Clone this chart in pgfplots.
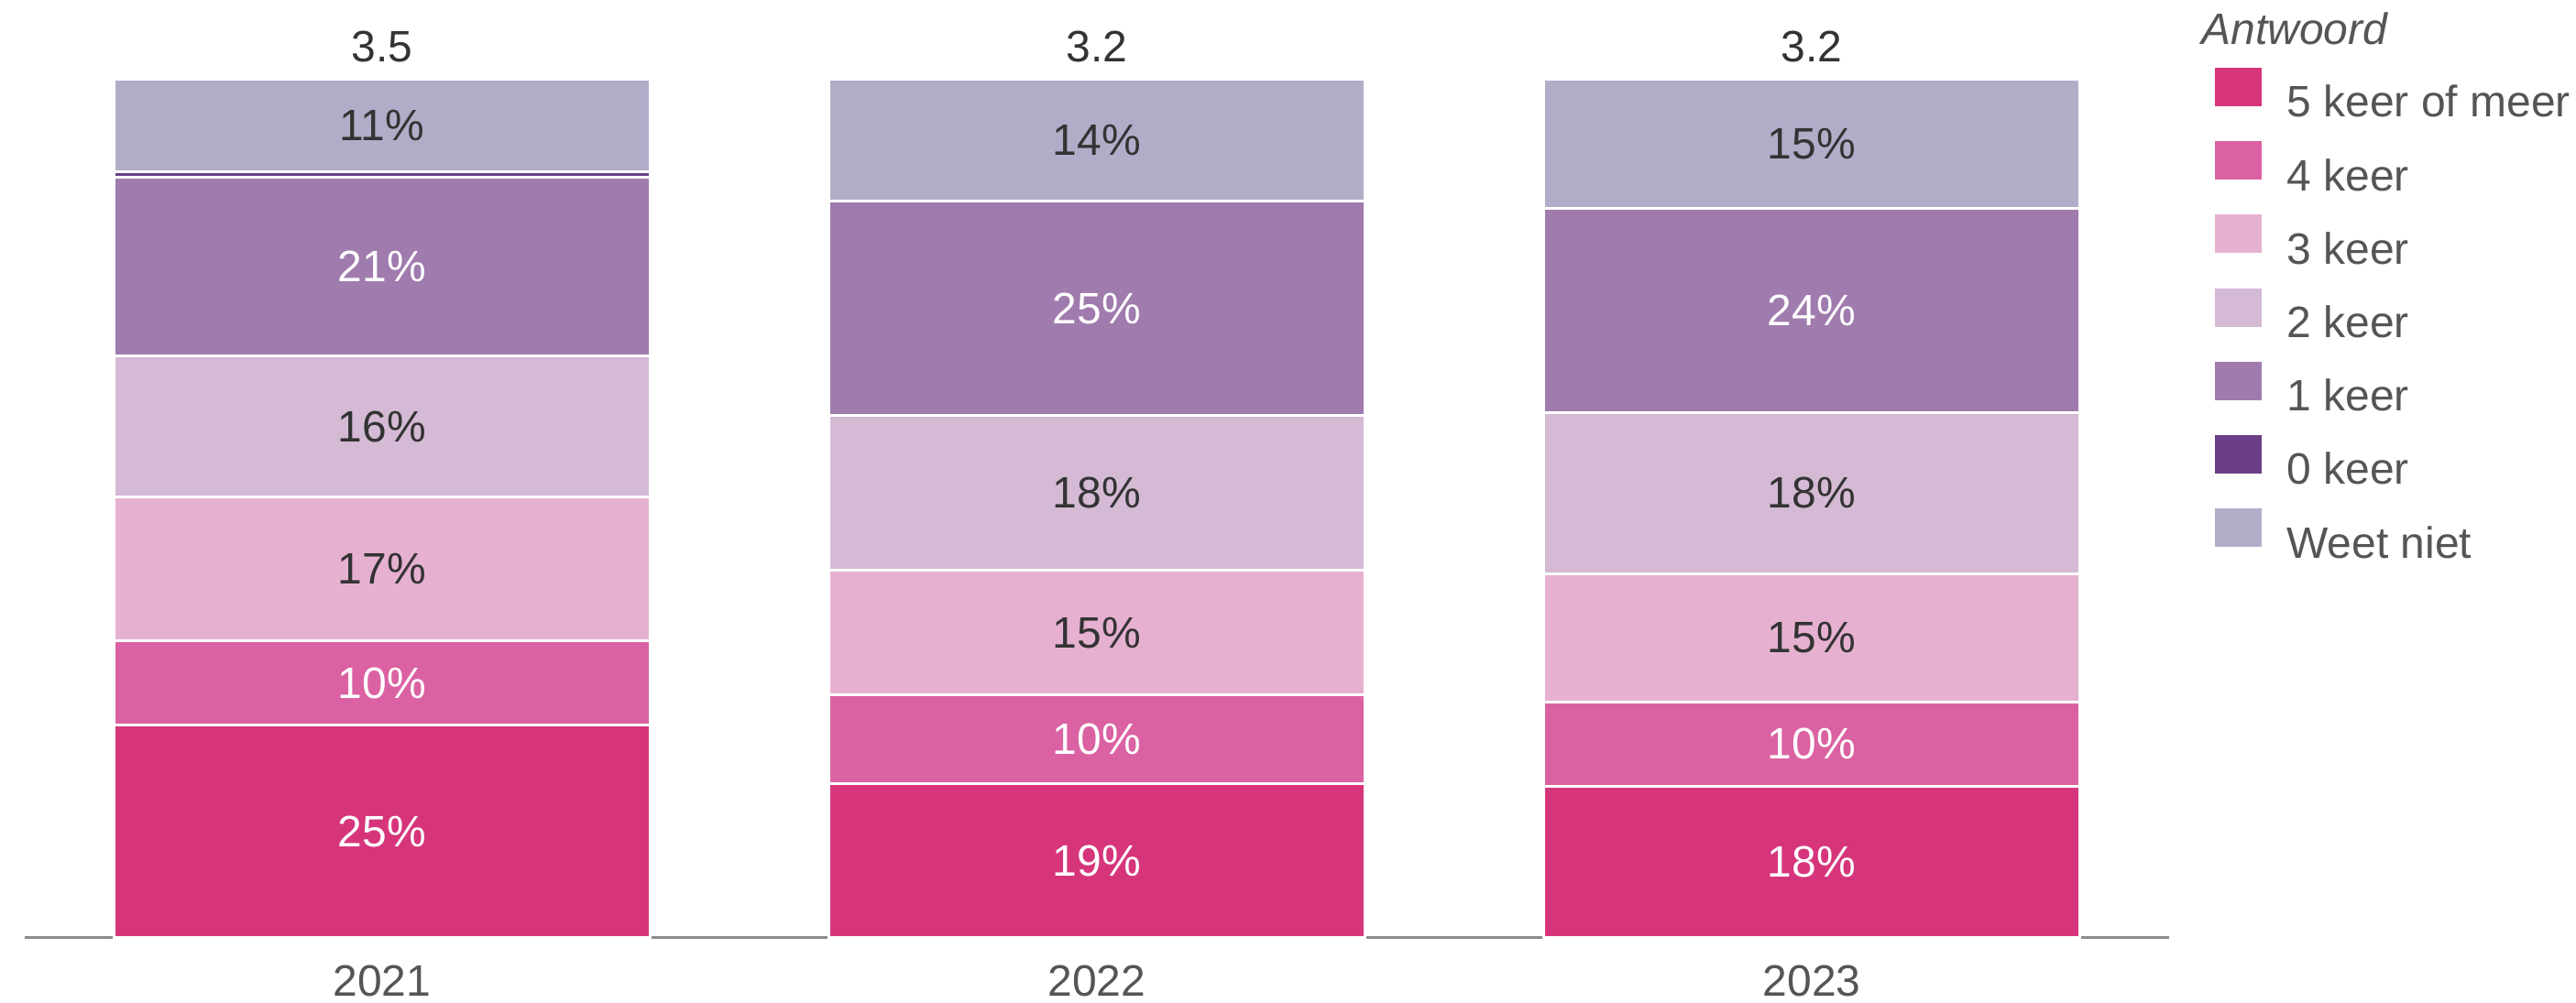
\documentclass[border=0pt]{standalone}
\usepackage{fontspec}
\setmainfont{Liberation Sans}
\usepackage{pgfplots}
\usepackage{pgfplotstable}
\pgfplotsset{compat=1.18}

\definecolor{cfive}{HTML}{D6357C}
\definecolor{cfour}{HTML}{DB62A2}
\definecolor{cthree}{HTML}{E6B1D1}
\definecolor{ctwo}{HTML}{D4BAD5}
\definecolor{cone}{HTML}{A07BAE}
\definecolor{czero}{HTML}{6A3F87}
\definecolor{cweet}{HTML}{B1ADC9}
\definecolor{txtdark}{HTML}{333333}
\definecolor{txtgray}{HTML}{555555}
\definecolor{basegray}{HTML}{8C8C8C}

% stacked shares (%), bottom to top (as drawn, normalised to 100)
\pgfplotstableread{
x five four three two one zero weet
0 24.8 9.8 16.7 16.5 20.8 0.6 10.8
1 18.0 10.3 14.5 18.0 25.0 0 14.2
2 17.7 9.8 14.9 18.8 23.7 0 15.1
}\datatable

% label positions (segment middles) and printed values
\pgfplotstableread{
x y lab
0 12.4 25
0 29.7 10
0 78.2 21
1 9.0 19
1 23.15 10
1 73.3 25
2 8.85 18
2 22.6 10
2 73.05 24
}\whitelabels
\pgfplotstableread{
x y lab
0 42.95 17
0 59.55 16
0 94.6 11
1 35.55 15
1 51.8 18
1 92.9 14
2 34.95 15
2 51.8 18
2 92.45 15
}\darklabels
\pgfplotstableread{
x y lab
0 103.8 3.5
1 103.8 3.2
2 103.8 3.2
}\toplabels

\pgfplotsset{
  sq/.style={fill=#1, legend image code/.code={\fill[#1] (0pt,-1.5pt) rectangle (24pt,18pt);}},
  base/.style={
    width=1170pt, height=511pt, scale only axis,
    xmin=-0.5, xmax=2.5, ymin=0, ymax=109,
    at={(0,0)}, anchor=south west, clip=false,
  },
}

\begin{document}
\begin{tikzpicture}
\begin{axis}[base,
  ybar stacked, bar width=0.75,
  axis y line=none,
  axis x line=bottom,
  x axis line style={draw=basegray, line width=1.5pt, -},
  xtick={0,1,2}, xticklabels={2021,2022,2023},
  major tick length=0pt,
  xticklabel style={font=\fontsize{24}{28}\selectfont, text=txtgray, inner sep=0pt, yshift=-15pt},
  ytick=\empty,
  every axis plot/.append style={draw=white, line width=1.5pt},
  legend style={at={(rel axis cs:1.0214,0.930)}, anchor=north west,
    draw=none, fill=none, inner sep=0pt, row sep=11.6pt, column sep=13.5pt,
    nodes={inner sep=0pt, anchor=west, text height=18pt, text depth=1.5pt},
    font=\fontsize{24}{28}\selectfont, text=txtgray},
  legend cell align=left,
]
\addplot[sq=cfive] table[x=x, y=five] {\datatable};
\addlegendentry{5 keer of meer}
\addplot[sq=cfour] table[x=x, y=four] {\datatable};
\addlegendentry{4 keer}
\addplot[sq=cthree] table[x=x, y=three] {\datatable};
\addlegendentry{3 keer}
\addplot[sq=ctwo] table[x=x, y=two] {\datatable};
\addlegendentry{2 keer}
\addplot[sq=cone] table[x=x, y=one] {\datatable};
\addlegendentry{1 keer}
\addplot[sq=czero] table[x=x, y=zero] {\datatable};
\addlegendentry{0 keer}
\addplot[sq=cweet] table[x=x, y=weet] {\datatable};
\addlegendentry{Weet niet}
\end{axis}

\begin{axis}[base, hide axis]
\addplot[only marks, mark=none, point meta=explicit symbolic,
  nodes near coords={\pgfplotspointmeta\%}, nodes near coords align={center},
  every node near coord/.append style={font=\fontsize{24}{28}\selectfont, text=white, inner sep=0pt}]
  table[x=x, y=y, meta=lab] {\whitelabels};
\addplot[only marks, mark=none, point meta=explicit symbolic,
  nodes near coords={\pgfplotspointmeta\%}, nodes near coords align={center},
  every node near coord/.append style={font=\fontsize{24}{28}\selectfont, text=txtdark, inner sep=0pt}]
  table[x=x, y=y, meta=lab] {\darklabels};
\addplot[only marks, mark=none, point meta=explicit symbolic,
  nodes near coords={\pgfplotspointmeta}, nodes near coords align={center},
  every node near coord/.append style={font=\fontsize{24}{28}\selectfont, text=txtdark, inner sep=0pt}]
  table[x=x, y=y, meta=lab] {\toplabels};
\end{axis}
\node[anchor=base west, inner sep=0pt, text=txtgray, font=\itshape\fontsize{24}{28}\selectfont] at (1187.5pt,487.5pt) {Antwoord};
\pgfresetboundingbox
\path[use as bounding box] (-13.5pt,-35.5pt) rectangle (1392pt,512pt);
\end{tikzpicture}
\end{document}
